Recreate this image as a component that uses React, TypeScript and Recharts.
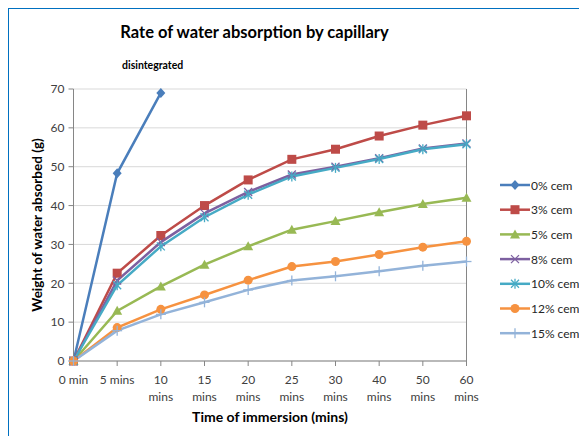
import React from "react";
import { LineChart, Line, XAxis, YAxis, CartesianGrid, ReferenceLine } from "recharts";

const categories = ["0 min", "5 mins", "10 mins", "15 mins", "20 mins", "25 mins", "30 mins", "40 mins", "50 mins", "60 mins"];
const cem0 = [0, 48.3, 69, null, null, null, null, null, null, null];
const cem3 = [0, 22.6, 32.3, 40, 46.6, 51.9, 54.5, 57.9, 60.7, 63.1];
const cem5 = [0, 12.9, 19.2, 24.8, 29.5, 33.8, 36, 38.3, 40.4, 42];
const cem8 = [0, 20.7, 30.6, 38, 43.5, 48, 50, 52.2, 54.7, 56];
const cem10 = [0, 19.5, 29.5, 37, 42.8, 47.5, 49.7, 52, 54.5, 55.8];
const cem12 = [0, 8.6, 13.3, 17, 20.8, 24.3, 25.6, 27.4, 29.3, 30.8];
const cem15 = [0, 7.8, 12, 15.1, 18.3, 20.7, 21.8, 23.1, 24.5, 25.6];
const yTicks = [0, 10, 20, 30, 40, 50, 60, 70];

const seriesDefs = [
  { key: "0% cem", values: cem0, color: "#4A7EBB", shape: "diamond" },
  { key: "3% cem", values: cem3, color: "#BE4B48", shape: "square" },
  { key: "5% cem", values: cem5, color: "#98B954", shape: "triangle" },
  { key: "8% cem", values: cem8, color: "#7D60A0", shape: "x" },
  { key: "10% cem", values: cem10, color: "#46AAC5", shape: "star" },
  { key: "12% cem", values: cem12, color: "#F69240", shape: "circle" },
  { key: "15% cem", values: cem15, color: "#93B3D9", shape: "plus" },
];

const data = categories.map((c, i) => {
  const row: any = { time: c };
  seriesDefs.forEach((s) => {
    row[s.key] = s.values[i];
  });
  return row;
});

const FONT = "Lato, 'Noto Sans', sans-serif";

function Marker({ shape, cx, cy, color }: { shape: string; cx: number; cy: number; color: string }) {
  if (cx == null || cy == null || isNaN(cx) || isNaN(cy)) return null;
  switch (shape) {
    case "diamond":
      return <polygon points={`${cx},${cy - 5} ${cx + 4.5},${cy} ${cx},${cy + 5} ${cx - 4.5},${cy}`} fill={color} />;
    case "square":
      return <rect x={cx - 4.5} y={cy - 4.5} width={9} height={9} fill={color} />;
    case "triangle":
      return <polygon points={`${cx},${cy - 5} ${cx + 5},${cy + 4} ${cx - 5},${cy + 4}`} fill={color} />;
    case "x":
      return (
        <g stroke={color} strokeWidth={1.3}>
          <line x1={cx - 4} y1={cy - 4} x2={cx + 4} y2={cy + 4} />
          <line x1={cx - 4} y1={cy + 4} x2={cx + 4} y2={cy - 4} />
        </g>
      );
    case "star":
      return (
        <g stroke={color} strokeWidth={1.3}>
          <line x1={cx - 4} y1={cy - 4} x2={cx + 4} y2={cy + 4} />
          <line x1={cx - 4} y1={cy + 4} x2={cx + 4} y2={cy - 4} />
          <line x1={cx} y1={cy - 5} x2={cx} y2={cy + 5} />
        </g>
      );
    case "circle":
      return <circle cx={cx} cy={cy} r={4.5} fill={color} />;
    case "plus":
      return (
        <g stroke={color} strokeWidth={1.3}>
          <line x1={cx} y1={cy - 5} x2={cx} y2={cy + 5} />
          <line x1={cx - 5} y1={cy} x2={cx + 5} y2={cy} />
        </g>
      );
    default:
      return null;
  }
}

function XTick(props: any) {
  const { x, y, payload } = props;
  const v: string = payload.value;
  const parts = v.split(" ");
  const twoLine = parts[0].length >= 2;
  const style = { fontFamily: FONT, fontSize: 12, fill: "#404040" };
  if (!twoLine) {
    return (
      <text x={x} y={y + 11} textAnchor="middle" dominantBaseline="central" style={style}>
        {v}
      </text>
    );
  }
  return (
    <g>
      <text x={x} y={y + 11} textAnchor="middle" dominantBaseline="central" style={style}>
        {parts[0]}
      </text>
      <text x={x} y={y + 28} textAnchor="middle" dominantBaseline="central" style={style}>
        {parts[1]}
      </text>
    </g>
  );
}

function LegendBox() {
  return (
    <svg width={95} height={175} style={{ position: "absolute", left: 492, top: 167 }}>
      {seriesDefs.map((s, i) => {
        const cy = 10 + i * 24.7;
        return (
          <g key={s.key}>
            <line x1={0} y1={cy} x2={30} y2={cy} stroke={s.color} strokeWidth={2.5} />
            <Marker shape={s.shape} cx={15} cy={cy} color={s.color} />
            <text x={31} y={cy} dominantBaseline="central" style={{ fontFamily: FONT, fontSize: 12, fill: "#262626" }}>
              {s.key}
            </text>
          </g>
        );
      })}
    </svg>
  );
}

export default function App() {
  return (
    <div style={{ position: "relative", width: 579, height: 428, fontFamily: FONT }}>
      <div
        style={{
          position: "absolute",
          left: 0,
          top: 0,
          width: 579,
          height: 428,
          borderLeft: "1.5px solid #0070C0",
          borderTop: "1.5px solid #0070C0",
          boxSizing: "border-box",
        }}
      />
      <div
        style={{
          position: "absolute",
          left: 0,
          top: 14,
          width: 493,
          textAlign: "center",
          fontSize: 16.5,
          fontWeight: 700,
          color: "#000",
          whiteSpace: "nowrap",
        }}
      >
        Rate of water absorption by capillary
      </div>
      <div
        style={{ position: "absolute", left: 114, top: 51, fontSize: 10.5, fontWeight: 700, color: "#000" }}
      >
        disintegrated
      </div>
      <div
        style={{
          position: "absolute",
          left: 29 - 120,
          top: 218 - 9,
          width: 240,
          textAlign: "center",
          transform: "rotate(-90deg)",
          fontSize: 13.5,
          fontWeight: 700,
          color: "#000",
          whiteSpace: "nowrap",
        }}
      >
        Weight of water absorbed (g)
      </div>
      <div
        style={{
          position: "absolute",
          left: 262 - 120,
          top: 400,
          width: 240,
          textAlign: "center",
          fontSize: 14,
          fontWeight: 700,
          color: "#000",
          whiteSpace: "nowrap",
        }}
      >
        Time of immersion (mins)
      </div>
      <LineChart
        width={579}
        height={428}
        data={data}
        margin={{ top: 81, right: 120.5, bottom: 0, left: 0 }}
        style={{ position: "absolute", left: 0, top: 0 }}
      >
        <CartesianGrid vertical={false} stroke="#D9D9D9" strokeWidth={1} />
        <XAxis
          dataKey="time"
          height={75}
          interval={0}
          padding={{ left: 0, right: 0 }}
          stroke="#868686"
          tickSize={5}
          tickLine={{ stroke: "#868686" }}
          tick={<XTick />}
        />
        <YAxis
          width={65.5}
          domain={[0, 70]}
          ticks={yTicks}
          interval={0}
          stroke="#868686"
          tickSize={5}
          tickMargin={4}
          tick={{ fontFamily: FONT, fontSize: 12, fill: "#404040" }}
        />
        <ReferenceLine x="60 mins" stroke="#868686" strokeWidth={1} />
        {seriesDefs.map((s) => (
          <Line
            key={s.key}
            type="linear"
            dataKey={s.key}
            stroke={s.color}
            strokeWidth={2.5}
            isAnimationActive={false}
            connectNulls={false}
            dot={(p: any) => <Marker key={`${s.key}-${p.index}`} shape={s.shape} cx={p.cx} cy={p.cy} color={s.color} />}
            activeDot={false}
          />
        ))}
      </LineChart>
      <LegendBox />
    </div>
  );
}
